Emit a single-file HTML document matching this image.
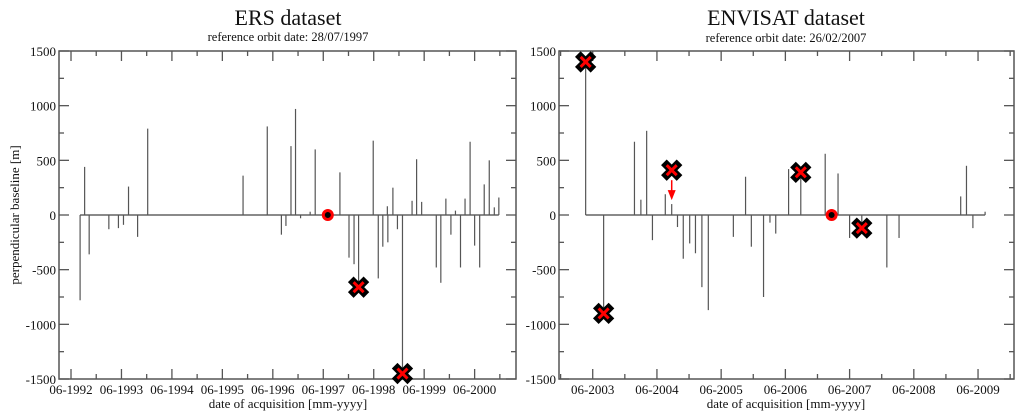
<!DOCTYPE html>
<html><head><meta charset="utf-8"><style>
html,body{margin:0;padding:0;background:#fff;}
svg{display:block;font-family:"Liberation Serif",serif;}
</style></head><body>
<svg id="chart" width="1024" height="420" viewBox="0 0 1024 420" xmlns="http://www.w3.org/2000/svg">
<text x="288" y="25" font-size="22" text-anchor="middle" fill="#111">ERS dataset</text>
<text x="288" y="41" font-size="12.5" text-anchor="middle" fill="#111">reference orbit date: 28/07/1997</text>
<text x="786" y="25" font-size="22" text-anchor="middle" fill="#111">ENVISAT dataset</text>
<text x="786" y="42" font-size="12.5" text-anchor="middle" fill="#111">reference orbit date: 26/02/2007</text>
<text x="0" y="0" font-size="13" text-anchor="middle" fill="#111" transform="translate(19,215) rotate(-90)">perpendicular baseline [m]</text>
<text x="288" y="408" font-size="13" text-anchor="middle" fill="#111">date of acquisition [mm-yyyy]</text>
<text x="786" y="408" font-size="13" text-anchor="middle" fill="#111">date of acquisition [mm-yyyy]</text>
</svg>
<script>
// ERS data
const ersDates = [1992.60,1992.69,1992.78,1993.17,1993.36,1993.46,1993.56,1993.74,1993.94,1995.83,1996.31,1996.59,1996.68,1996.78,1996.87,1996.97,1997.16,1997.26,1997.75,1997.93,1998.03,1998.12,1998.41,1998.51,1998.60,1998.69,1998.70,1998.80,1998.89,1998.99,1999.18,1999.27,1999.37,1999.66,1999.75,1999.85,1999.95,2000.04,2000.14,2000.23,2000.33,2000.42,2000.52,2000.61,2000.71,2000.81,2000.90];
const ersValues = [-780,440,-360,-130,-120,-90,260,-200,790,360,810,-180,-100,630,970,-30,30,600,390,-390,-450,-660,680,-580,-290,80,-250,250,-130,-1450,130,510,120,-480,-620,150,-180,40,-480,150,670,-280,-480,280,500,70,160];
const ersRejectedDates = [1998.12,1998.99];
const ersRejectedValues = [-660,-1450];
const ersRefDate = [1997.51];
const ersTickLabels = ["06-1992","06-1993","06-1994","06-1995","06-1996","06-1997","06-1998","06-1999","06-2000"];
const ersTickYears = [1992.42,1993.42,1994.42,1995.42,1996.42,1997.42,1998.42,1999.42,2000.42];
// ENVISAT data
const envDates = [2003.31,2003.59,2004.07,2004.17,2004.26,2004.35,2004.55,2004.65,2004.74,2004.83,2004.93,2005.02,2005.12,2005.22,2005.61,2005.80,2005.89,2006.08,2006.18,2006.27,2006.47,2006.66,2007.04,2007.24,2007.42,2007.61,2008.00,2008.19,2009.15,2009.24,2009.34,2009.53];
const envValues = [1400,-900,670,140,770,-230,190,100,-110,-400,-260,-350,-660,-870,-200,350,-290,-750,-70,-170,420,390,560,380,-210,-120,-480,-210,170,450,-120,30];
const envRejectedDates = [2003.31,2003.59,2004.65,2006.66,2007.61];
const envRejectedValues = [1400,-900,410,390,-120];
const envRefDate = [2007.14];
const envTickLabels = ["06-2003","06-2004","06-2005","06-2006","06-2007","06-2008","06-2009"];
const envTickYears = [2003.42,2004.42,2005.42,2006.42,2007.42,2008.42,2009.42];
const yTicks = [-1500,-1000,-500,0,500,1000,1500];

const NS="http://www.w3.org/2000/svg";
const svg=document.getElementById('chart');
function mk(tag,attrs,parent){const e=document.createElementNS(NS,tag);for(const k in attrs)e.setAttribute(k,attrs[k]);(parent||svg).appendChild(e);return e;}

function panel(cfg){
  const g=mk('g',{});
  
  
  const X=t=>cfg.x0+(t-cfg.t0)/(cfg.t1-cfg.t0)*(cfg.x1-cfg.x0);
  const Y=v=>cfg.y1-(v+1500)/3000*(cfg.y1-cfg.y0);
  // y ticks
  for(let v=-1500;v<=1500;v+=250){
    const major=v%500===0, L=major?10:5;
    mk('line',{x1:cfg.x0,x2:cfg.x0+L,y1:Y(v),y2:Y(v),stroke:'#555','stroke-width':1.3},g);
    mk('line',{x1:cfg.x1,x2:cfg.x1-L,y1:Y(v),y2:Y(v),stroke:'#555','stroke-width':1.3},g);
  }
  yTicks.forEach(v=>{
    const t=mk('text',{x:cfg.x0-3,y:Y(v)+5,'font-size':13,'text-anchor':'end',fill:'#111'},g);
    
    
    t.textContent=v;
  });
  // x ticks
  cfg.tickYears.forEach((ty,i)=>{
    [0,0.5].forEach(off=>{
      const t=ty+off; if(X(t)>cfg.x1) return;
      const L=off?5:10;
      mk('line',{x1:X(t),x2:X(t),y1:cfg.y1,y2:cfg.y1-L,stroke:'#555','stroke-width':1.3},g);
      mk('line',{x1:X(t),x2:X(t),y1:cfg.y0,y2:cfg.y0+L,stroke:'#555','stroke-width':1.3},g);
    });
    const tx=mk('text',{x:X(ty),y:cfg.y1+15,'font-size':13,'text-anchor':'middle',fill:'#111'},g);
    
    
    tx.textContent=cfg.tickLabels[i];
  });
  if(cfg.preMinor!==undefined){const t=cfg.preMinor;
    mk('line',{x1:X(t),x2:X(t),y1:cfg.y1,y2:cfg.y1-5,stroke:'#555','stroke-width':1.3},g);
    mk('line',{x1:X(t),x2:X(t),y1:cfg.y0,y2:cfg.y0+5,stroke:'#555','stroke-width':1.3},g);}
  // baseline
  const mn=Math.min(...cfg.dates), mx=Math.max(...cfg.dates);
  const bl=mk('line',{x1:X(mn),x2:X(mx),y1:Y(0),y2:Y(0),stroke:'#444','stroke-width':1.3},g);
  
  
  // stems
  cfg.dates.forEach((d,i)=>{
    const s=mk('line',{x1:X(d),x2:X(d),y1:Y(0),y2:Y(cfg.values[i]),stroke:'#555','stroke-width':1.2},g);
    
    
  });
  // frame
  const fr=mk('rect',{x:cfg.x0,y:cfg.y0,width:cfg.x1-cfg.x0,height:cfg.y1-cfg.y0,fill:'none',stroke:'#555','stroke-width':1.5},g);
  
  
  // ref point
  cfg.ref.forEach(d=>{
    const c=mk('circle',{cx:X(d),cy:Y(0),r:4.5,fill:'#000',stroke:'#f00','stroke-width':3},g);
    
    
  });
  // rejected markers
  cfg.rejD.forEach((d,i)=>{
    const cx=X(d), cy=Y(cfg.rejV[i]), s=5;
    const p=`M${cx-s},${cy-s}L${cx+s},${cy+s}M${cx+s},${cy-s}L${cx-s},${cy+s}`;
    const m=mk('g',{},g);
    
    
    mk('path',{d:p,stroke:'#000','stroke-width':8,'stroke-linecap':'square',fill:'none'},m);
    mk('path',{d:p,stroke:'#f00','stroke-width':3,'stroke-linecap':'butt',fill:'none'},m);
  });
  return {X,Y,g};
}
panel({name:'ers',x0:59,x1:516,y0:51,y1:379,t0:1992.182,t1:2001.24,dates:ersDates,values:ersValues,rejD:ersRejectedDates,rejV:ersRejectedValues,ref:ersRefDate,tickLabels:ersTickLabels,tickYears:ersTickYears});
const env=panel({name:'envisat',x0:559,x1:1014,y0:51,y1:379,t0:2002.895,t1:2009.98,dates:envDates,values:envValues,rejD:envRejectedDates,rejV:envRejectedValues,ref:envRefDate,tickLabels:envTickLabels,tickYears:envTickYears,preMinor:2002.92});
// arrow on ENVISAT
const ax=env.X(envRejectedDates[2]);
const arr=mk('g',{});


mk('line',{x1:ax,x2:ax,y1:env.Y(envRejectedValues[2])+10,y2:env.Y(envValues[7])-12,stroke:'#f00','stroke-width':1.5},arr);
const ty=env.Y(envValues[7])-4;
mk('path',{d:`M${ax-4},${ty-10}L${ax+4},${ty-10}L${ax},${ty}Z`,fill:'#f00'},arr);
</script>
</body></html>
